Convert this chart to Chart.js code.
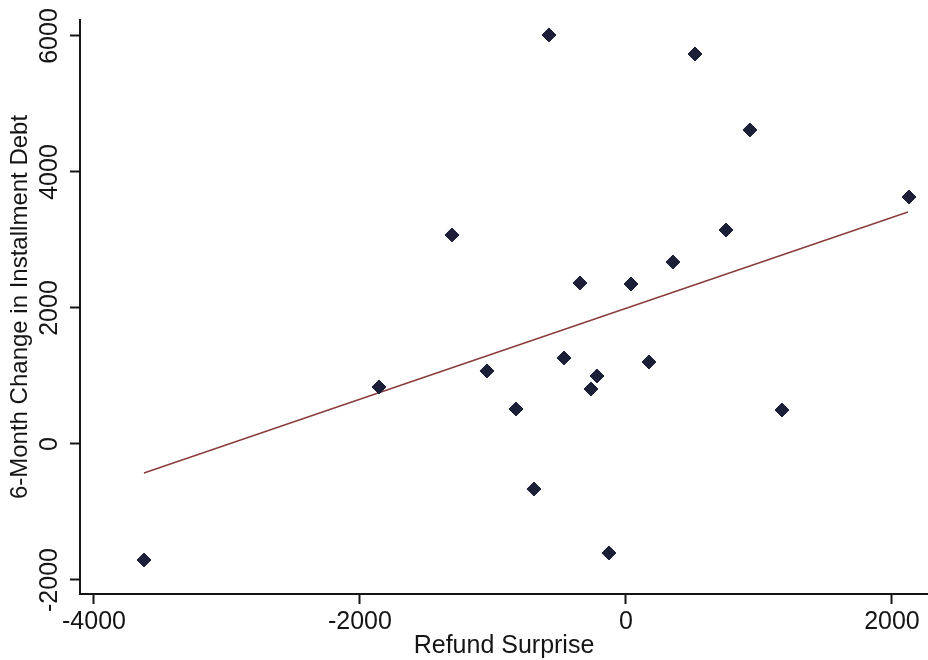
<!DOCTYPE html>
<html>
<head>
<meta charset="utf-8">
<script src="https://cdn.jsdelivr.net/npm/chart.js@4.4.1/dist/chart.umd.min.js"></script>
<style>
  html, body { margin: 0; padding: 0; background: #fff; }
  #wrap { width: 928px; height: 660px; position: relative; }
</style>
</head>
<body>
<div id="wrap"><canvas id="scatterChart"></canvas></div>
<script>
// refund surprise (x) vs 6-month change in installment debt (y)
const refundSurprise = [-579, 519, 932, 2128, -1308, 752, 353, -346, 38, -1045,
                        -466, -218, -263, 173, -827, 1173, -692, -128, -1857, -3624];
const debtChange = [6015, 5735, 4618, 3632, 3074, 3147, 2676, 2368, 2353, 1074,
                    1265, 1000, 809, 1206, 515, 500, -662, -1603, 838, -1706];

// fitted line, end points
const fitX = [-3624, 2120];
const fitY = [-426, 3412];

const xTicks = [-4000, -2000, 0, 2000];
const yTicks = [-2000, 0, 2000, 4000, 6000];

const FONT = "'Liberation Sans', Arial, sans-serif";
const INK = '#151515';

// y tick labels are vertical in the reference
const yLabelPlugin = {
  id: 'yLabels',
  afterDraw(chart) {
    const c = chart.ctx;
    const y = chart.scales.y;
    c.save();
    c.fillStyle = INK;
    c.font = '25px ' + FONT;
    c.textAlign = 'center';
    c.textBaseline = 'middle';
    y.ticks.forEach(t => {
      c.save();
      c.translate(50, y.getPixelForValue(t.value));
      c.rotate(-Math.PI / 2);
      c.fillText(String(t.value), 0, 0);
      c.restore();
    });
    c.restore();
  }
};

const ctx = document.getElementById('scatterChart').getContext('2d');

const chart = new Chart(ctx, {
  type: 'scatter',
  data: {
    datasets: [{
      label: 'Observations',
      data: refundSurprise.map((x, i) => ({ x: x, y: debtChange[i] })),
      pointStyle: 'rectRot',
      pointRadius: 7,
      pointHoverRadius: 7,
      backgroundColor: '#1b2038',
      borderColor: '#1b2038',
      borderWidth: 1,
    }, {
      type: 'line',
      label: 'Fit',
      data: fitX.map((x, i) => ({ x: x, y: fitY[i] })),
      borderColor: '#8a3c3c',
      borderWidth: 1.5,
      pointRadius: 0,
      fill: false,
    }],
  },
  options: {
    responsive: true,
    maintainAspectRatio: false,
    animation: false,
    layout: { autoPadding: false, padding: { top: 20, right: 0, left: 0, bottom: 0 } },
    plugins: {
      legend: { display: false },
      tooltip: { enabled: false },
    },
    scales: {
      x: {
        type: 'linear',
        min: -4105,
        max: 2271,
        afterBuildTicks: s => { s.ticks = xTicks.map(v => ({ value: v })); },
        afterFit: s => { s.height = 66; s.paddingLeft = 0; s.paddingRight = 0; },
        grid: {
          drawOnChartArea: false,
          drawTicks: true,
          tickLength: 10,
          tickWidth: 2,
          tickColor: INK,
        },
        border: { display: true, color: INK, width: 2 },
        ticks: {
          font: { family: FONT, size: 25 },
          color: INK,
          padding: 3,
          maxRotation: 0,
          callback: v => String(v),
        },
        title: {
          display: true,
          text: 'Refund Surprise',
          font: { family: FONT, size: 25 },
          color: INK,
          padding: { top: 0, bottom: -1 },
        },
      },
      y: {
        type: 'linear',
        min: -2206,
        max: 6235,
        afterBuildTicks: s => { s.ticks = yTicks.map(v => ({ value: v })); },
        afterFit: s => { s.width = 80; s.paddingTop = 0; s.paddingBottom = 0; },
        grid: {
          drawOnChartArea: false,
          drawTicks: true,
          tickLength: 10,
          tickWidth: 2,
          tickColor: INK,
        },
        border: { display: true, color: INK, width: 2 },
        ticks: { display: false },
        title: {
          display: true,
          text: '6-Month Change in Installment Debt',
          font: { family: FONT, size: 24 },
          color: INK,
          padding: { top: 6, bottom: 0 },
        },
      },
    },
  },
  plugins: [yLabelPlugin],
});
</script>
</body>
</html>
